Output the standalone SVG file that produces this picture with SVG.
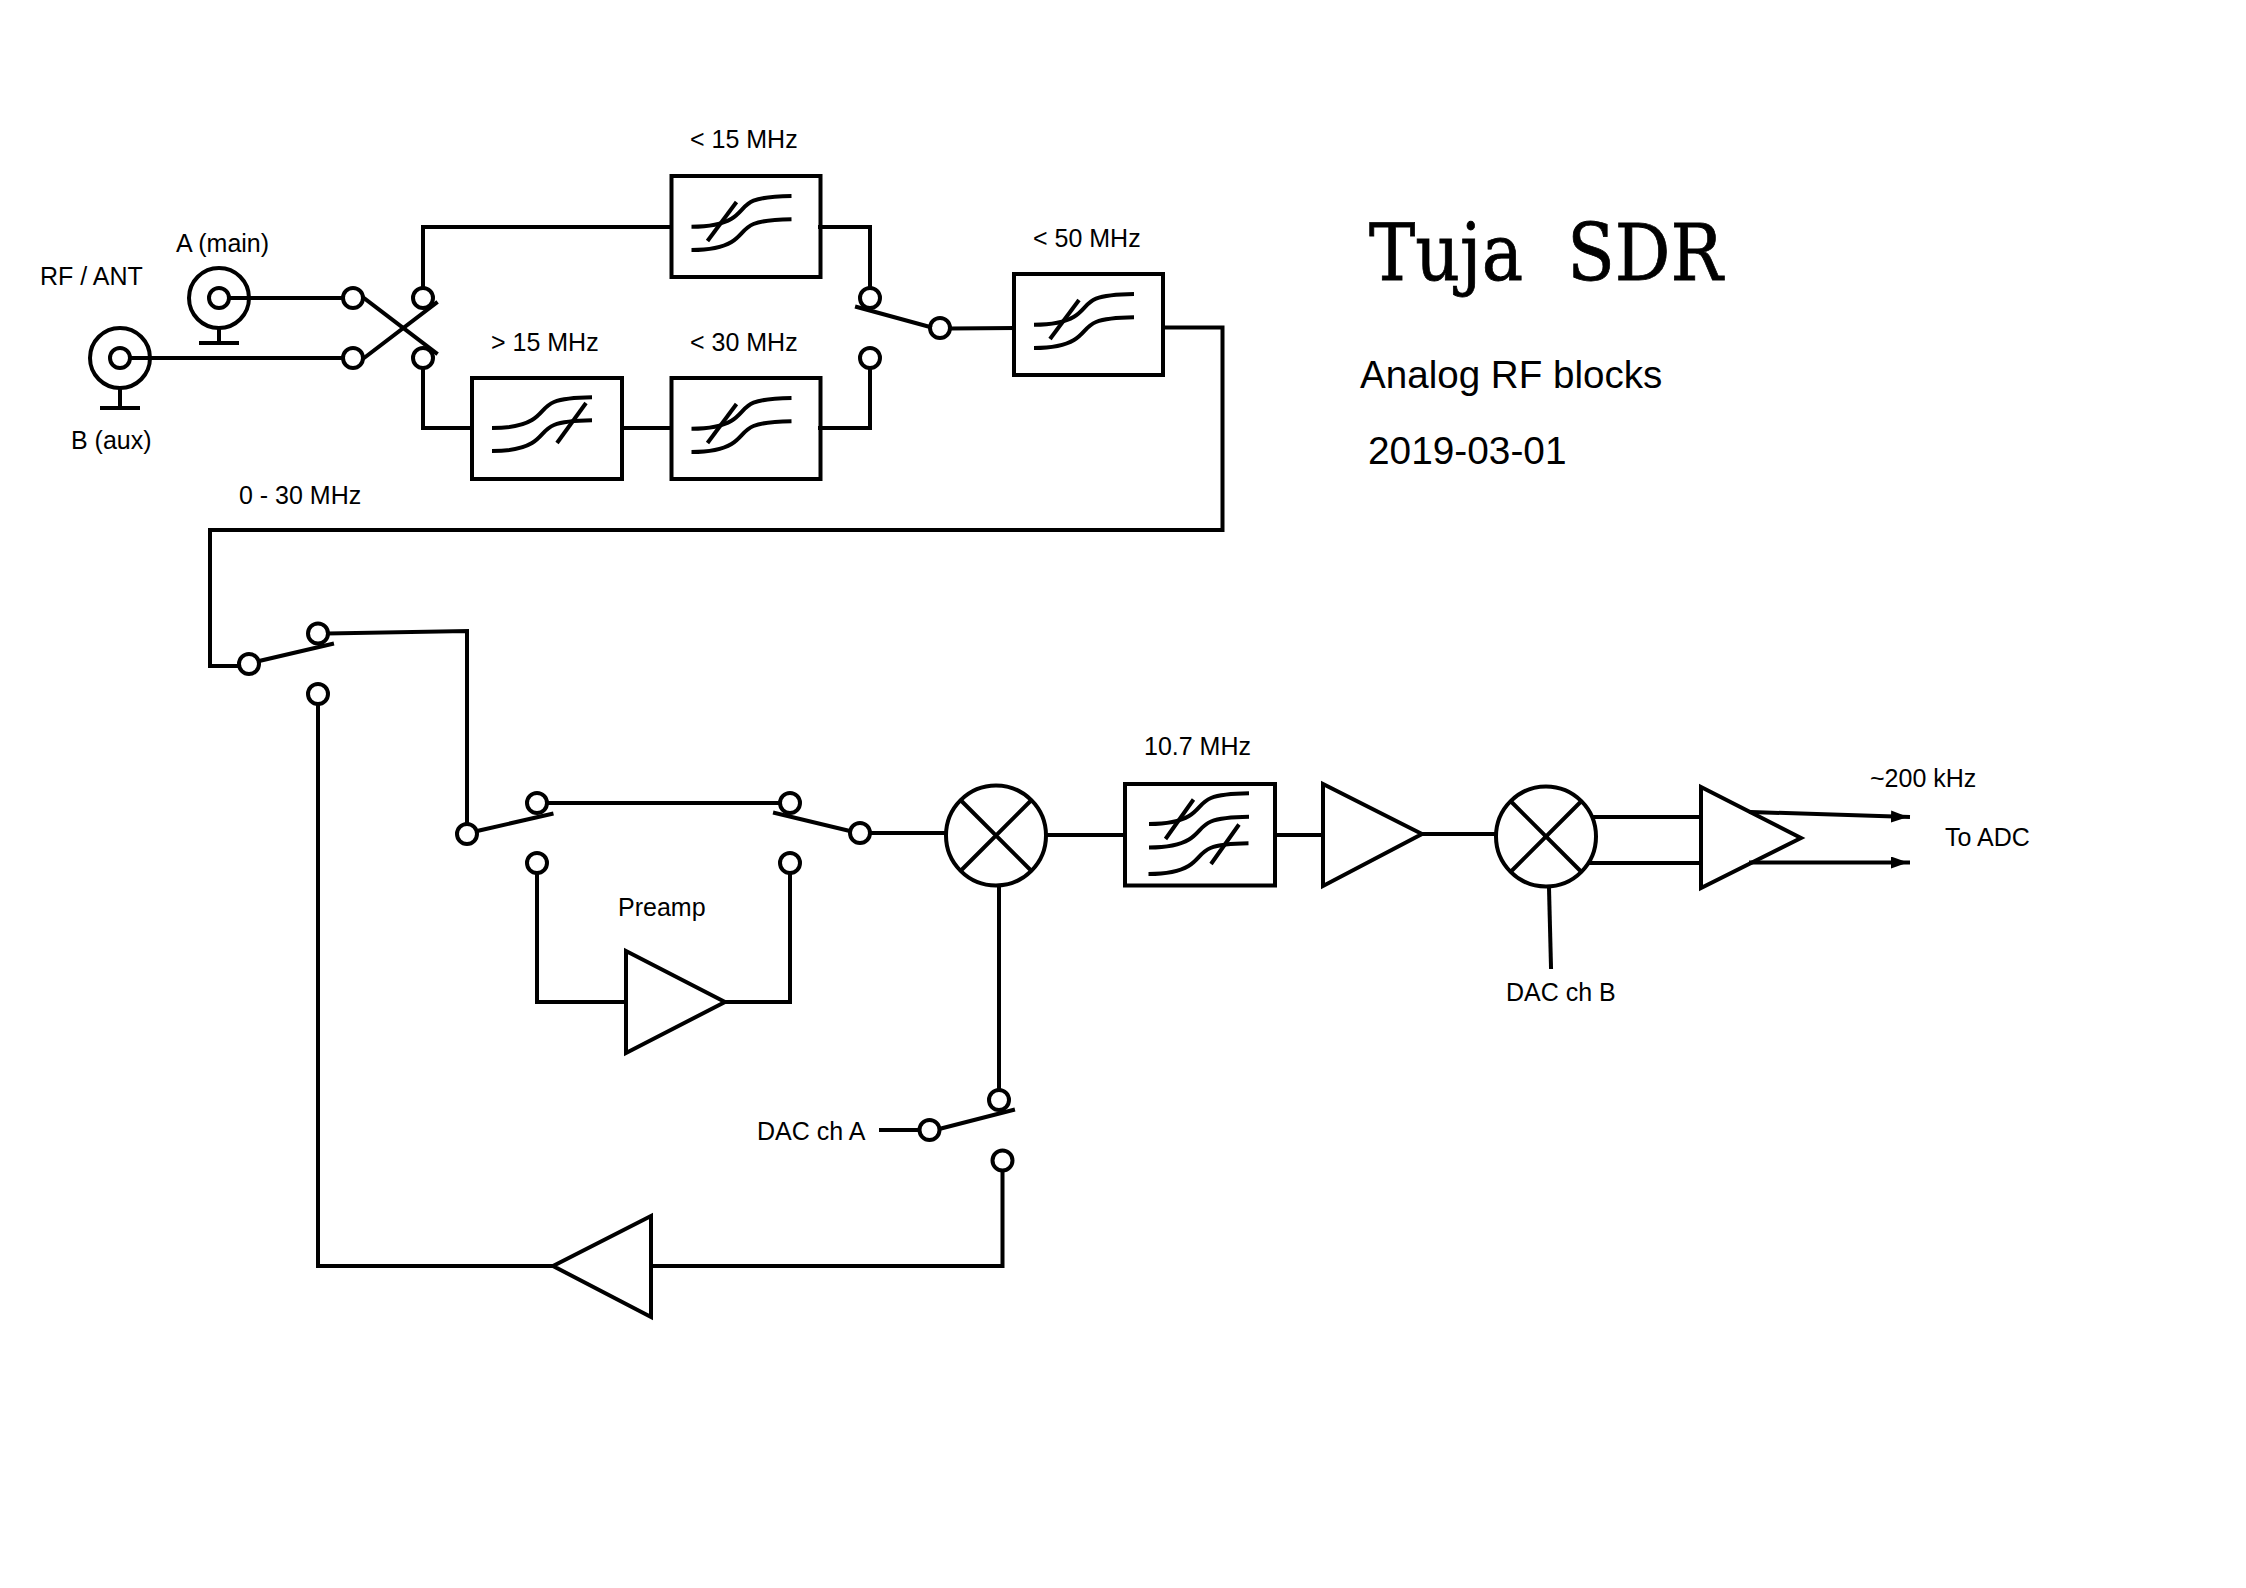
<svg xmlns="http://www.w3.org/2000/svg" xmlns:xlink="http://www.w3.org/1999/xlink" width="2246" height="1588" viewBox="0 0 2246 1588">
<style>
.w{fill:none;stroke:#000;stroke-width:4;stroke-linecap:square;stroke-linejoin:miter}
.n{fill:none;stroke:#000;stroke-width:4;stroke-linejoin:miter}
.c{fill:none;stroke:#000;stroke-width:4}
.t{font-family:"Liberation Sans",Arial,sans-serif;font-size:25px;fill:#000}
.s{font-family:"Liberation Sans",Arial,sans-serif;font-size:38.6px;fill:#000}
.d{font-family:"Liberation Sans",Arial,sans-serif;font-size:38.8px;fill:#000}
.h{font-family:"DejaVu Serif",serif;font-size:69.5px;fill:#000;stroke:#000;stroke-width:.7}
</style>
<defs>
<marker id="ah" markerUnits="userSpaceOnUse" markerWidth="18" markerHeight="14" refX="17" refY="6" orient="auto"><path d="M0 0L17 6L0 12Z" fill="#000"/></marker>
<path id="sc" class="c" d="M0 0C15 0 30 -2 40 -8C50 -14 52 -22 62 -26C72 -30 85 -30.5 100 -30.7"/>
<g id="lp"><rect class="n" width="149" height="101"/><use xlink:href="#sc" x="20" y="50.7"/><use xlink:href="#sc" x="20" y="74"/><path class="c" d="M65 26L36 65"/></g>
<g id="hp"><rect class="n" width="150" height="101"/><use xlink:href="#sc" x="20" y="50"/><use xlink:href="#sc" x="20" y="73"/><path class="c" d="M114 25L85 65"/></g>
<circle id="tm" class="c" r="10"/>
</defs>
<g id="connectors" class="w">
<path d="M130 358H342"/><path d="M230 298H342"/>
<path d="M364 298L436 353"/><path d="M364 358L436 303"/>
<path d="M423 288V227H671"/><path d="M423 368V428H472"/>
<path d="M622 428H671"/>
<path d="M820 227H870V288"/><path d="M820 428H870V368"/>
<path d="M857 307L930 327"/><path d="M950 328.5L1014 328"/>
<path d="M1164 327.5H1222.5V530H210V666H239"/>
<path d="M259 661L332 644"/><path d="M328 633.5L467 631V824"/>
<path d="M477 831L551.5 814"/><path d="M547 803H780"/>
<path d="M775 813L850 831"/><path d="M870 833H946"/>
<path d="M537 873V1002H626"/><path d="M725 1002H790V873"/>
<path d="M1046 835H1125"/><path d="M1275 835H1323"/>
<path d="M1422 834H1496"/>
<path d="M999 887V1090"/><path d="M881 1130H919"/><path d="M941 1128.5L1013 1110"/>
<path d="M1002.5 1171V1266H651"/><path d="M553 1266H318V704"/>
<path d="M1549 888L1551 967"/>
<path d="M1593 817H1701"/><path d="M1590 863H1701"/>
<path d="M1751 812L1908 817" marker-end="url(#ah)"/><path d="M1751 862.5H1908" marker-end="url(#ah)"/>
</g>
<g id="conn-b"><circle class="c" cx="120" cy="358" r="30"/><circle class="c" cx="120" cy="358" r="10"/><path class="c" d="M120 388V408M100 408H140"/><text class="t" x="71" y="449">B (aux)</text><text class="t" x="40" y="285">RF / ANT</text></g>
<g id="conn-a"><circle class="c" cx="219" cy="298" r="30"/><circle class="c" cx="219" cy="298" r="10"/><path class="c" d="M219 328V343M199 343H239"/><text class="t" x="176" y="252">A (main)</text></g>
<g id="sw-in"><use xlink:href="#tm" x="353" y="298"/><use xlink:href="#tm" x="353" y="358"/><use xlink:href="#tm" x="423" y="298"/><use xlink:href="#tm" x="423" y="358"/></g>
<g id="lp15"><use xlink:href="#lp" x="671.5" y="176"/><text class="t" x="690" y="148">&lt; 15 MHz</text></g>
<g id="hp15"><use xlink:href="#hp" x="472" y="378"/><text class="t" x="491" y="351">&gt; 15 MHz</text></g>
<g id="lp30"><use xlink:href="#lp" x="671.5" y="378"/><text class="t" x="690" y="351">&lt; 30 MHz</text></g>
<g id="sw-out"><use xlink:href="#tm" x="870" y="298"/><use xlink:href="#tm" x="870" y="358"/><use xlink:href="#tm" x="940" y="328"/></g>
<g id="lp50"><use xlink:href="#lp" x="1014" y="274"/><text class="t" x="1033" y="246.5">&lt; 50 MHz</text></g>
<text id="band" class="t" x="239" y="503.5">0 - 30 MHz</text>
<g id="title"><text class="h" transform="translate(1369 279.5) scale(1 1.12)" xml:space="preserve">Tuja  SDR</text><text class="s" x="1360" y="388">Analog RF blocks</text><text class="d" x="1368" y="463.5">2019-03-01</text></g>
<g id="sw-loop"><use xlink:href="#tm" x="249" y="664"/><use xlink:href="#tm" x="318" y="633.5"/><use xlink:href="#tm" x="318" y="694"/></g>
<g id="sw-pre-in"><use xlink:href="#tm" x="467" y="834"/><use xlink:href="#tm" x="537" y="803"/><use xlink:href="#tm" x="537" y="863"/></g>
<g id="sw-pre-out"><use xlink:href="#tm" x="790" y="803"/><use xlink:href="#tm" x="790" y="863"/><use xlink:href="#tm" x="860" y="833"/></g>
<g id="preamp"><path class="n" d="M626 951V1053L725 1002Z"/><text class="t" x="618" y="916">Preamp</text></g>
<g id="mixer1"><circle class="c" cx="996" cy="835.5" r="50"/><path class="c" d="M961 800.5L1031 870.5M1031 800.5L961 870.5"/></g>
<g id="sw-dac"><use xlink:href="#tm" x="929.5" y="1130"/><use xlink:href="#tm" x="999" y="1100"/><use xlink:href="#tm" x="1002.5" y="1160.5"/><text class="t" x="757" y="1139.5">DAC ch A</text></g>
<g id="amp-back"><path class="n" d="M651 1216V1317L553 1266Z"/></g>
<g id="bp107"><rect class="n" x="1125" y="784" width="150" height="101.5"/><use xlink:href="#sc" x="1149" y="824"/><use xlink:href="#sc" x="1149" y="847.5"/><use xlink:href="#sc" x="1148.5" y="874"/><path class="c" d="M1193.5 799.5L1165.5 839M1239 824.5L1211 864"/><text class="t" x="1144" y="755">10.7 MHz</text></g>
<g id="amp-if"><path class="n" d="M1323 784V886L1422 834Z"/></g>
<g id="mixer2"><circle class="c" cx="1546" cy="836.5" r="50"/><path class="c" d="M1511 801.5L1581 871.5M1581 801.5L1511 871.5"/><text class="t" x="1506" y="1001">DAC ch B</text></g>
<g id="amp-out"><path class="n" d="M1701 787V888L1801 838Z"/><text class="t" x="1870" y="786.5">~200 kHz</text><text class="t" x="1945" y="846">To ADC</text></g>
</svg>
